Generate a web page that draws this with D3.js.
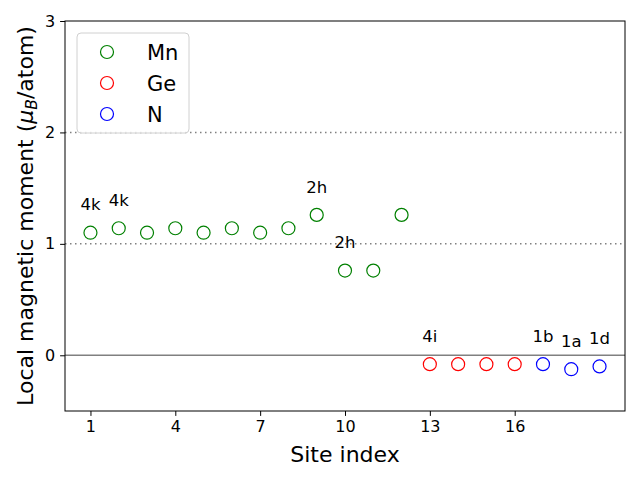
<!DOCTYPE html>
<html lang="en">
<head>
<meta charset="utf-8">
<script src="https://cdnjs.cloudflare.com/ajax/libs/d3/7.8.5/d3.min.js"></script>
<style>
  body { margin: 0; background: #fff; }
  text { font-family: "DejaVu Sans", sans-serif; fill: #000; }
</style>
</head>
<body>
<script>
// data
var mnSites = [1, 2, 3, 4, 5, 6, 7, 8, 9, 10, 11, 12];
var mnMoments = [1.10, 1.14, 1.10, 1.14, 1.10, 1.14, 1.10, 1.14, 1.26, 0.76, 0.76, 1.26];
var geSites = [13, 14, 15, 16];
var geMoments = [-0.08, -0.08, -0.08, -0.08];
var nSites = [17, 18, 19];
var nMoments = [-0.08, -0.125, -0.10];
var labelSites = [1, 2, 9, 10, 13, 17, 18, 19];
var labelMoments = [1.10, 1.14, 1.26, 0.76, -0.08, -0.08, -0.125, -0.10];
var labelTexts = ['4k', '4k', '2h', '2h', '4i', '1b', '1a', '1d'];
var xTicks = [1, 4, 7, 10, 13, 16];
var yTicks = [0, 1, 2, 3];
var gridLevels = [1, 2];

var width = 640, height = 480;
var plotLeft = 65, plotRight = 625, plotTop = 21, plotBottom = 411;

var svg = d3.select('body').append('svg')
            .attr('width', width)
            .attr('height', height);

var x = d3.scaleLinear().domain([0.1, 19.9]).range([plotLeft, plotRight]);
var y = d3.scaleLinear().domain([-0.5, 3]).range([plotBottom, plotTop]);

// dotted reference lines
svg.selectAll('line.grid').data(gridLevels).enter().append('line')
   .attr('class', 'grid')
   .attr('x1', plotLeft).attr('x2', plotRight)
   .attr('y1', function(d){ return y(d); })
   .attr('y2', function(d){ return y(d); })
   .attr('stroke', '#808080')
   .attr('stroke-width', 1.5)
   .attr('stroke-dasharray', '1.5,3.5');

// zero line
svg.append('line')
   .attr('x1', plotLeft).attr('x2', plotRight)
   .attr('y1', y(0)).attr('y2', y(0))
   .attr('stroke', '#808080')
   .attr('stroke-width', 1.5);

// markers
function drawSeries(xs, ys, colour) {
  svg.append('g').selectAll('circle').data(xs).enter().append('circle')
     .attr('cx', function(d){ return x(d); })
     .attr('cy', function(d, i){ return y(ys[i]); })
     .attr('r', 6.5)
     .attr('fill', 'none')
     .attr('stroke', colour)
     .attr('stroke-width', 1.2);
}
drawSeries(mnSites, mnMoments, 'green');
drawSeries(geSites, geMoments, 'red');
drawSeries(nSites, nMoments, 'blue');

// site labels
svg.append('g').selectAll('text').data(labelTexts).enter().append('text')
   .attr('x', function(d, i){ return x(labelSites[i]); })
   .attr('y', function(d, i){ return y(labelMoments[i] + 0.2); })
   .attr('text-anchor', 'middle')
   .style('font-size', '16.5px')
   .text(function(d){ return d; });

// axes
var xAxis = svg.append('g')
   .attr('transform', 'translate(0,' + plotBottom + ')')
   .call(d3.axisBottom(x).tickValues(xTicks).tickSize(4.9).tickPadding(5));
var yAxis = svg.append('g')
   .attr('transform', 'translate(' + plotLeft + ',0)')
   .call(d3.axisLeft(y).tickValues(yTicks).tickFormat(d3.format('d')).tickSize(4.9).tickPadding(5));

[xAxis, yAxis].forEach(function(a){
  a.select('.domain').remove();
  a.selectAll('line').attr('stroke', '#000').attr('stroke-width', 1);
  a.selectAll('text').style('font-size', '16px').style('font-family', '"DejaVu Sans", sans-serif');
});

// frame
svg.append('rect')
   .attr('x', plotLeft).attr('y', plotTop)
   .attr('width', plotRight - plotLeft).attr('height', plotBottom - plotTop)
   .attr('fill', 'none').attr('stroke', '#000').attr('stroke-width', 1);

// axis titles
svg.append('text')
   .attr('x', (plotLeft + plotRight) / 2).attr('y', 462)
   .attr('text-anchor', 'middle')
   .style('font-size', '22px')
   .text('Site index');

var yl = svg.append('text')
   .attr('transform', 'translate(33,' + ((plotTop + plotBottom) / 2) + ') rotate(-90)')
   .attr('text-anchor', 'middle')
   .style('font-size', '22px');
yl.append('tspan').text('Local magnetic moment (');
yl.append('tspan').style('font-style', 'italic').text('\u03bc');
yl.append('tspan').style('font-style', 'italic').style('font-size', '15.5px').attr('dy', 4).text('B');
yl.append('tspan').attr('dy', -4).text('/atom)');

// legend
var legendNames = ['Mn', 'Ge', 'N'];
var legendColours = ['green', 'red', 'blue'];
var legend = svg.append('g');
legend.append('rect')
   .attr('x', 77).attr('y', 33)
   .attr('width', 112).attr('height', 100)
   .attr('rx', 4)
   .attr('fill', '#fff').attr('fill-opacity', 0.8)
   .attr('stroke', '#d0d0d0');
legend.selectAll('circle').data(legendNames).enter().append('circle')
   .attr('cx', 107)
   .attr('cy', function(d, i){ return 52 + i * 31; })
   .attr('r', 6.5)
   .attr('fill', 'none')
   .attr('stroke', function(d, i){ return legendColours[i]; })
   .attr('stroke-width', 1.2);
legend.selectAll('text').data(legendNames).enter().append('text')
   .attr('x', 147)
   .attr('y', function(d, i){ return 60 + i * 31; })
   .style('font-size', '21px')
   .text(function(d){ return d; });
</script>
</body>
</html>
